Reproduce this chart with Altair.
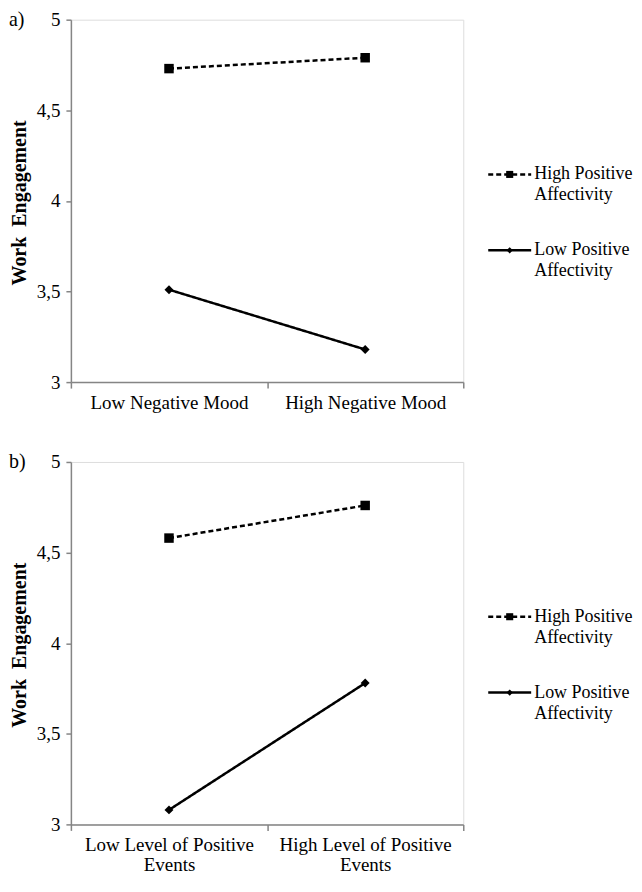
import altair as alt
import pandas as pd

# ---- data ----
series = ["High Positive Affectivity", "Low Positive Affectivity"]
series_labels = ["High Positive\nAffectivity", "Low Positive\nAffectivity"]

cats_a = ["Low Negative Mood", "High Negative Mood"]
high_pa_a = [4.73, 4.79]
low_pa_a = [3.51, 3.18]

cats_b = ["Low Level of Positive Events", "High Level of Positive Events"]
high_pa_b = [4.58, 4.76]
low_pa_b = [3.08, 3.78]

y_ticks = [3, 3.5, 4, 4.5, 5]
y_domain = [3, 5]
panel_tags = ["a)", "b)"]
y_title = "Work\u00a0\u00a0Engagement"

# ---- styling ----
SERIF = "Liberation Serif"
GREY = "#858585"
W, H = 393, 363
DASH = [5, 3]


def make_df(cats, high, low):
    rows = []
    for c, v in zip(cats, high):
        rows.append({"cond": c, "series": series[0], "value": v})
    for c, v in zip(cats, low):
        rows.append({"cond": c, "series": series[1], "value": v})
    return pd.DataFrame(rows)


def legend_entry(label, dash, shape, size, row_y):
    src = alt.Chart(pd.DataFrame({"t": [label]}))
    rule_kw = dict(color="black", strokeWidth=2.5)
    if dash:
        rule_kw["strokeDash"] = dash
    rule = src.mark_rule(**rule_kw).encode(
        x=alt.value(W + 25), x2=alt.value(W + 68), y=alt.value(row_y)
    )
    mark = src.mark_point(shape=shape, filled=True, color="black", size=size, opacity=1).encode(
        x=alt.value(W + 46.5), y=alt.value(row_y)
    )
    text = src.mark_text(
        align="left", baseline="middle", lineBreak="\n", lineHeight=21,
        font=SERIF, fontSize=18, color="black",
    ).encode(x=alt.value(W + 71), y=alt.value(row_y), text="t:N")
    return [rule, mark, text]


def panel(cats, high, low, tag, label_expr):
    df = make_df(cats, high, low)
    base = alt.Chart(df)

    x = alt.X(
        "cond:N",
        sort=cats,
        scale=alt.Scale(type="band", paddingInner=0, paddingOuter=0),
        axis=alt.Axis(
            title=None,
            labelAngle=0,
            tickBand="extent",
            labelExpr=label_expr,
            labelFont=SERIF,
            labelFontSize=19,
            labelColor="black",
            labelPadding=5,
            labelLineHeight=20,
            tickSize=6,
            tickColor=GREY,
            tickWidth=1.5,
            domainColor=GREY,
            domainWidth=1.5,
            grid=False,
        ),
    )
    y = alt.Y(
        "value:Q",
        scale=alt.Scale(domain=y_domain, nice=False, zero=False),
        axis=alt.Axis(
            values=y_ticks,
            labelExpr="replace(toString(datum.value), '.', ',')",
            labelFont=SERIF,
            labelFontSize=19,
            labelColor="black",
            labelPadding=6,
            tickSize=5,
            tickColor=GREY,
            tickWidth=1.5,
            domainColor=GREY,
            domainWidth=1.5,
            grid=False,
            title=None,
        ),
    )

    dash_scale = alt.Scale(domain=series, range=[DASH, [1, 0]])

    lines = base.mark_line(color="black", strokeWidth=2.5).encode(
        x=x,
        y=y,
        strokeDash=alt.StrokeDash("series:N", scale=dash_scale, legend=None),
    )
    pts_high = (
        base.transform_filter(alt.datum.series == series[0])
        .mark_point(shape="square", filled=True, color="black", size=90, opacity=1)
        .encode(x=x, y=y)
    )
    pts_low = (
        base.transform_filter(alt.datum.series == series[1])
        .mark_point(shape="diamond", filled=True, color="black", size=80, opacity=1)
        .encode(x=x, y=y)
    )
    tag_text = alt.Chart(pd.DataFrame({"t": [tag]})).mark_text(
        align="left", baseline="middle", font=SERIF, fontSize=20, color="black"
    ).encode(x=alt.value(-62), y=alt.value(0), text="t:N")

    title_text = alt.Chart(pd.DataFrame({"t": [y_title]})).mark_text(
        align="center", baseline="middle", angle=270, font=SERIF, fontSize=20,
        fontWeight="bold", color="black",
    ).encode(x=alt.value(-51), y=alt.value(H / 2 + 2), text="t:N")

    leg = legend_entry(series_labels[0], DASH, "square", 50, 155) + legend_entry(
        series_labels[1], None, "diamond", 40, 231
    )

    return alt.layer(lines, pts_high, pts_low, tag_text, title_text, *leg).properties(
        width=W, height=H
    )


top = panel(cats_a, high_pa_a, low_pa_a, panel_tags[0], "datum.label")
bottom = panel(
    cats_b, high_pa_b, low_pa_b, panel_tags[1],
    "datum.label ? [replace(datum.label, ' Events', ''), 'Events'] : ''",
)

chart = (
    alt.vconcat(top, bottom, spacing=38)
    .properties(padding=0, background="white")
    .configure_view(stroke=GREY, strokeWidth=1.5)
    .configure(font=SERIF)
)

chart.save("out.html", embed_options={"renderer": "svg", "actions": False})
